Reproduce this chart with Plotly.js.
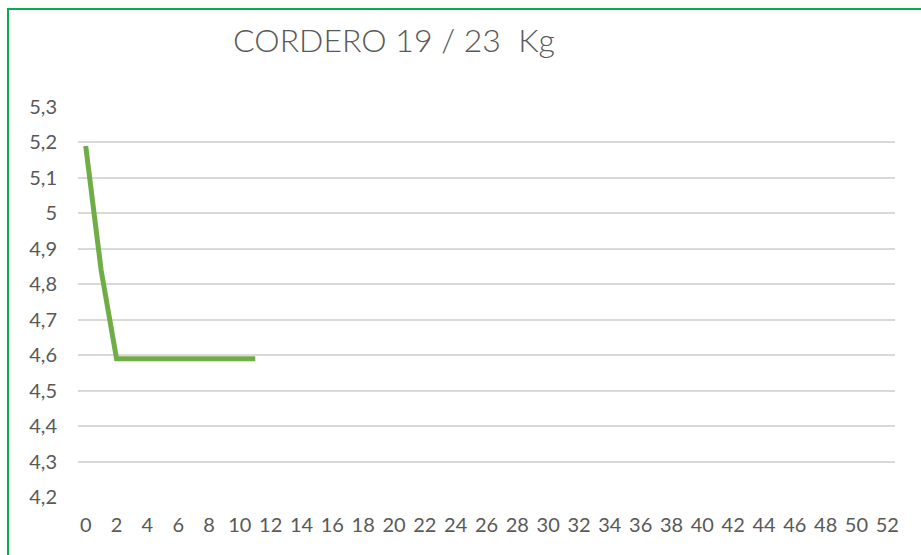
<!DOCTYPE html>
<html>
<head>
<meta charset="utf-8">
<script src="https://cdn.plot.ly/plotly-3.0.1.min.js"></script>
<style>
html,body{margin:0;padding:0;background:#fff;}
#wrap{position:relative;width:921px;height:555px;overflow:hidden;}
#chart{width:921px;height:555px;}
#frame{position:absolute;left:7px;top:8px;width:930px;height:560px;border-top:2px solid #00B050;border-left:2px solid #00B050;pointer-events:none;}
</style>
</head>
<body>
<div id="wrap"><div id="chart"></div><div id="frame"></div></div>
<script>
// Data
var categories = [];
for (var c = 0; c <= 52; c++) categories.push(c);
var weeks = [0, 1, 2, 3, 4, 5, 6, 7, 8, 9, 10, 11];
var values = [5.19, 4.84, 4.59, 4.59, 4.59, 4.59, 4.59, 4.59, 4.59, 4.59, 4.59, 4.59];
var xTickVals = [0,2,4,6,8,10,12,14,16,18,20,22,24,26,28,30,32,34,36,38,40,42,44,46,48,50,52];
var yTickVals = [4.2,4.3,4.4,4.5,4.6,4.7,4.8,4.9,5.0,5.1,5.2,5.3];
var yTickText = ['4,2','4,3','4,4','4,5','4,6','4,7','4,8','4,9','5','5,1','5,2','5,3'];
var titleText = 'CORDERO 19 / 23  Kg';

var trace = {
  x: weeks,
  y: values,
  type: 'scatter',
  mode: 'lines',
  line: {color: '#70AD47', width: 5},
  hoverinfo: 'skip'
};

var layout = {
  width: 921,
  height: 555,
  margin: {l: 78, r: 26, t: 107, b: 58},
  paper_bgcolor: '#fff',
  plot_bgcolor: '#fff',
  showlegend: false,
  font: {family: 'Lato, "Open Sans", sans-serif', color: '#595959', size: 20},
  title: {
    text: titleText,
    font: {family: 'Lato, "Open Sans", sans-serif', size: 32, color: '#595959', weight: 300},
    x: 394/921, xref: 'container', xanchor: 'center',
    y: 1 - 41/555, yref: 'container', yanchor: 'middle'
  },
  xaxis: {
    range: [-0.5, 52.5],
    tickmode: 'array',
    tickvals: xTickVals,
    ticktext: xTickVals.map(String),
    showgrid: false,
    zeroline: false,
    showline: false,
    ticks: '',
    ticklabelstandoff: 14,
    tickfont: {size: 20, color: '#595959'},
    fixedrange: true
  },
  yaxis: {
    range: [4.2, 5.3],
    tickmode: 'array',
    tickvals: yTickVals,
    ticktext: yTickText,
    showgrid: true,
    gridcolor: '#D9D9D9',
    gridwidth: 2,
    zeroline: false,
    showline: false,
    ticks: '',
    ticklabelstandoff: 20,
    tickfont: {size: 20, color: '#595959'},
    fixedrange: true
  }
};

Plotly.newPlot('chart', [trace], layout, {displayModeBar: false, staticPlot: true});
</script>
</body>
</html>
